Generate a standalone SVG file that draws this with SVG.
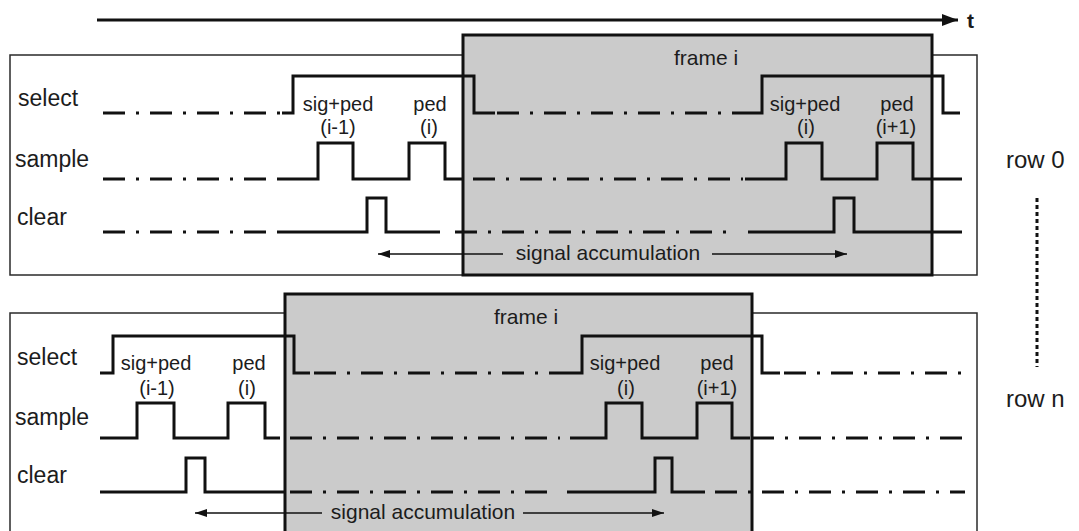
<svg xmlns="http://www.w3.org/2000/svg" width="1079" height="531" viewBox="0 0 1079 531">
  <style>
    text { font-family: "Liberation Sans", Arial, sans-serif; fill: #1c1c1c; }
    .lbl { font-size: 23px; }
    .tag { font-size: 20px; text-anchor: middle; }
    .acc { font-size: 21px; text-anchor: middle; }
    .row { font-size: 24px; }
    .panel { fill: #ffffff; stroke: #2a2a2a; stroke-width: 1.5; }
    .frame { fill: #cbcbcb; stroke: #111; stroke-width: 3; }
    .sig { fill: none; stroke: #111; stroke-width: 3; stroke-linejoin: miter; }
    .dd { fill: none; stroke: #111; stroke-width: 3; stroke-dasharray: 22 11 3 11; }
    .thin { fill: none; stroke: #111; stroke-width: 1.3; }
  </style>
  <defs>
    <marker id="head" viewBox="0 0 12 8" refX="12" refY="4" markerWidth="12" markerHeight="8" markerUnits="userSpaceOnUse" orient="auto-start-reverse">
      <path d="M0,0 L12,4 L0,8 z" fill="#111"/>
    </marker>
    <marker id="axisHead" viewBox="0 0 16 12" refX="16" refY="6" markerWidth="16" markerHeight="12" markerUnits="userSpaceOnUse" orient="auto">
      <path d="M0,0 L16,6 L0,12 z" fill="#111"/>
    </marker>
  </defs>

  <!-- time axis -->
  <g id="time-axis">
    <line x1="97" y1="20" x2="958" y2="20" stroke="#111" stroke-width="3" marker-end="url(#axisHead)"/>
    <text x="967" y="28" style="font-size:21px;font-weight:bold">t</text>
  </g>

  <!-- row 0 -->
  <g id="row0">
    <rect class="panel" x="10" y="55" width="967" height="220"/>
    <rect class="frame" x="463" y="35" width="469" height="240"/>
    <text class="acc" x="706" y="65">frame i</text>
    <text class="lbl" x="18" y="106">select</text>
    <text class="lbl" x="15" y="167">sample</text>
    <text class="lbl" x="17" y="225">clear</text>
    <text class="tag" x="338" y="111">sig+ped</text>
    <text class="tag" x="338" y="134">(i-1)</text>
    <text class="tag" x="430" y="111">ped</text>
    <text class="tag" x="429" y="134">(i)</text>
    <text class="tag" x="805" y="111">sig+ped</text>
    <text class="tag" x="806" y="134">(i)</text>
    <text class="tag" x="897" y="111">ped</text>
    <text class="tag" x="896" y="134">(i+1)</text>
    <text class="acc" x="608" y="260">signal accumulation</text>
  </g>

  <!-- row n -->
  <g id="rowN">
    <rect class="panel" x="10" y="313" width="967" height="230"/>
    <rect class="frame" x="285" y="294" width="467" height="250"/>
    <text class="acc" x="526" y="324">frame i</text>
    <text class="lbl" x="17" y="365">select</text>
    <text class="lbl" x="15" y="425">sample</text>
    <text class="lbl" x="17" y="483">clear</text>
    <text class="tag" x="156" y="370">sig+ped</text>
    <text class="tag" x="157" y="395">(i-1)</text>
    <text class="tag" x="249" y="370">ped</text>
    <text class="tag" x="247" y="395">(i)</text>
    <text class="tag" x="625" y="370">sig+ped</text>
    <text class="tag" x="626" y="395">(i)</text>
    <text class="tag" x="717" y="370">ped</text>
    <text class="tag" x="717" y="395">(i+1)</text>
    <text class="acc" x="423" y="519">signal accumulation</text>
  </g>

  <!-- row legend -->
  <g id="rows">
    <text class="row" x="1006" y="168">row 0</text>
    <line x1="1037" y1="198" x2="1037" y2="367" stroke="#111" stroke-width="3" stroke-dasharray="4 3"/>
    <text class="row" x="1006" y="407">row n</text>
  </g>

  <!-- waveforms and accumulation arrows -->
  <g id="connectors">
    <!-- row 0: select -->
    <path class="dd" d="M103 113 H282"/>
    <path class="sig" d="M282 113 H293 V76 H474 V113 H495"/>
    <path class="dd" d="M497 113 H748"/>
    <path class="sig" d="M748 113 H762 V76 H943 V113 H960"/>
    <!-- row 0: sample -->
    <path class="dd" d="M103 179 H280"/>
    <path class="sig" d="M280 179 H318 V143 H353 V179 H409 V143 H445 V179 H462"/>
    <path class="dd" d="M473 179 H743"/>
    <path class="sig" d="M745 179 H786 V143 H822 V179 H877 V143 H913 V179 H962"/>
    <!-- row 0: clear -->
    <path class="dd" d="M103 232 H280"/>
    <path class="sig" d="M280 232 H367 V198 H386 V232 H440"/>
    <path class="dd" d="M455 232 H735"/>
    <path class="sig" d="M748 232 H834 V198 H854 V232 H962"/>
    <!-- row 0: accumulation -->
    <line class="thin" x1="503" y1="254" x2="378" y2="254" marker-end="url(#head)"/>
    <line class="thin" x1="712" y1="254" x2="847" y2="254" marker-end="url(#head)"/>

    <!-- row n: select -->
    <path class="sig" d="M100 373 H113 V336 H294 V373 H310"/>
    <path class="dd" d="M314 373 H568"/>
    <path class="sig" d="M568 373 H582 V336 H762 V373 H780"/>
    <path class="dd" d="M784 373 H965"/>
    <!-- row n: sample -->
    <path class="sig" d="M100 438 H137 V403 H174 V438 H228 V403 H265 V438 H280"/>
    <path class="dd" d="M290 438 H560"/>
    <path class="sig" d="M570 438 H606 V403 H642 V438 H697 V403 H732 V438 H750"/>
    <path class="dd" d="M752 438 H965"/>
    <!-- row n: clear -->
    <path class="sig" d="M100 492 H186 V458 H205 V492 H285"/>
    <path class="dd" d="M290 492 H555"/>
    <path class="sig" d="M567 492 H655 V458 H672 V492 H705"/>
    <path class="dd" d="M715 492 H965"/>
    <!-- row n: accumulation -->
    <line class="thin" x1="322" y1="513" x2="195" y2="513" marker-end="url(#head)"/>
    <line class="thin" x1="523" y1="513" x2="664" y2="513" marker-end="url(#head)"/>
  </g>
</svg>
